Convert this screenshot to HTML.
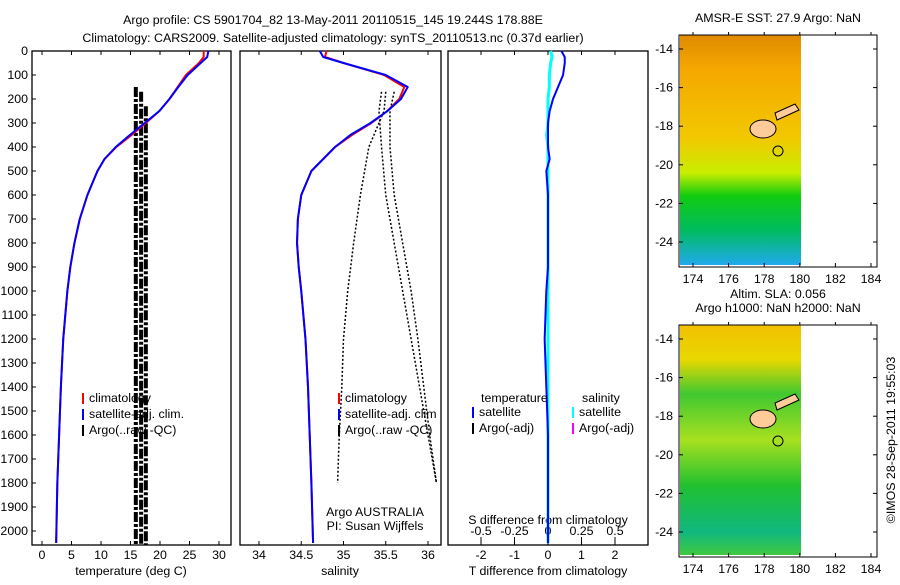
<!DOCTYPE html>
<html><head><meta charset="utf-8"><style>
body{margin:0;background:#fff;}
svg text{font-family:"Liberation Sans",sans-serif;font-size:12.4px;fill:#000;}
</style></head><body>
<svg id="c" width="900" height="580" xmlns="http://www.w3.org/2000/svg">
<text x="333" y="24" text-anchor="middle">Argo profile: CS 5901704_82 13-May-2011 20110515_145 19.244S 178.88E</text>
<text x="333" y="42" text-anchor="middle">Climatology: CARS2009. Satellite-adjusted climatology: synTS_20110513.nc (0.37d earlier)</text>
<g id="g"></g>
<text transform="translate(895,440) rotate(-90)" text-anchor="middle">©IMOS 28-Sep-2011 19:55:03</text>
</svg>
<script>
// depth levels
const depths=[0,25,50,100,150,200,250,300,350,400,450,500,600,700,800,900,1000,1200,1400,1600,1800,2050];
const tempClim=[27.4,27.4,26.6,24.4,23,21.6,19.9,17.6,15.2,12.6,10.6,9.4,7.7,6.4,5.5,4.8,4.3,3.6,3.2,2.9,2.6,2.4];
const tempSat=[28.2,28.0,26.9,24.7,23.1,21.6,19.9,17.4,14.9,12.5,10.6,9.4,7.7,6.4,5.5,4.8,4.3,3.6,3.2,2.9,2.6,2.4];
const salClim=[34.8,34.78,35.0,35.48,35.72,35.66,35.52,35.33,35.1,34.9,34.76,34.62,34.5,34.46,34.45,34.47,34.5,34.55,34.58,34.6,34.62,34.64];
const salSat=[34.72,34.76,35.0,35.5,35.76,35.68,35.52,35.32,35.08,34.9,34.76,34.62,34.5,34.46,34.45,34.47,34.5,34.55,34.58,34.6,34.62,34.64];
const tDiff=[0.4,0.5,0.5,0.45,0.3,0.15,0.05,0,0,0,0.05,-0.05,0,0,0,0,-0.05,-0.1,-0.05,0,0,0];
const sDiff=[0.02,0.03,0.02,0.01,0.01,0,0,0,-0.01,0,0,0,0,0,0,0,0,0,0,0,0,0];
const argoTempX=[15.9,16.8,17.6];
const argoTempTop=[150,170,230];
const argoSalDepth=[170,250,400,600,800,1000,1200,1400,1600,1800];
const argoSalA=[35.45,35.42,35.45,35.5,35.6,35.7,35.8,35.9,36.0,36.1];
const argoSalB=[35.6,35.55,35.55,35.6,35.7,35.8,35.88,35.95,36.02,36.1];
const argoSalC=[35.5,35.48,35.3,35.2,35.12,35.05,35,34.98,34.95,34.93];
const tTicks=[0,5,10,15,20,25,30];
const sTicks=[34,34.5,35,35.5,36];
const dTicks=[0,100,200,300,400,500,600,700,800,900,1000,1100,1200,1300,1400,1500,1600,1700,1800,1900,2000];
const tdTicks=[-2,-1,0,1,2];
const sdTicks=[-0.5,-0.25,0,0.25,0.5];
const latTicks=[-14,-16,-18,-20,-22,-24];
const lonTicks=[174,176,178,180,182,184];

const NS="http://www.w3.org/2000/svg";const G=document.getElementById('g');
function el(t,a,p){const e=document.createElementNS(NS,t);for(const k in a)e.setAttribute(k,a[k]);(p||G).appendChild(e);return e;}
const yD=d=>51+d*0.24;
const xT=v=>42+v*5.9, xS=v=>259+(v-34)*84.5, xTD=v=>548+v*33.5, xSD=v=>548+v*134;
function frame(x0,x1,name){const r=el('rect',{x:x0,y:51,width:x1-x0,height:494,fill:'none',stroke:'#000','stroke-width':1.3});
}
function xticks(ticks,f,yy,lbl,name){ticks.forEach(v=>{const x=f(v);el('line',{x1:x,x2:x,y1:545,y2:541,stroke:'#000'});el('line',{x1:x,x2:x,y1:51,y2:55,stroke:'#000'});
const t=el('text',{x:x,y:yy,'text-anchor':'middle'});t.textContent=lbl(v);});}
function line(xs,f,col,w,name,dash){const pts=depths.map((d,i)=>f(xs[i])+','+yD(d)).join(' ');const p=el('polyline',{points:pts,fill:'none',stroke:col,'stroke-width':w,'stroke-linejoin':'round'});
if(dash)p.setAttribute('stroke-dasharray',dash);}
frame(32,231,'temperature-panel');frame(240,441,'salinity-panel');frame(448,648,'difference-panel');
dTicks.forEach(d=>{const y=yD(d);el('line',{x1:32,x2:36,y1:y,y2:y,stroke:'#000'});const t=el('text',{x:28,y:y+4,'text-anchor':'end'});t.textContent=d;
});
xticks(tTicks,xT,559,v=>v,'temperature-tick-label');xticks(sTicks,xS,559,v=>v,'salinity-tick-label');xticks(tdTicks,xTD,559,v=>v,'tdiff-tick-label');
sdTicks.forEach(v=>{const x=xSD(v);el('line',{x1:x,x2:x,y1:541,y2:537,stroke:'#000'});const t=el('text',{x:x,y:535,'text-anchor':'middle'});t.textContent=v;
});
[['temperature (deg C)',131,575,'temperature-axis-title'],['salinity',340,575,'salinity-axis-title'],['T difference from climatology',548,575,'tdiff-axis-title'],['S difference from climatology',548,524,'sdiff-axis-title'],['Argo AUSTRALIA',375,516,'institution-label'],['PI: Susan Wijffels',375,530,'pi-label']].forEach(a=>{const t=el('text',{x:a[1],y:a[2],'text-anchor':'middle'});t.textContent=a[0];});
// argo temp
argoTempX.forEach((v,i)=>{const l=el('line',{x1:xT(v),x2:xT(v),y1:yD(argoTempTop[i]),y2:545,stroke:'#000','stroke-width':4,'stroke-dasharray':'10,2,3,2'});
});
line(tempClim,xT,'#f00',2,'temperature-climatology-line');line(tempSat,xT,'#00f',2,'temperature-satellite-line');
[argoSalA,argoSalB,argoSalC].forEach(arr=>{const pts=argoSalDepth.map((d,i)=>xS(arr[i])+','+yD(d)).join(' ');const p=el('polyline',{points:pts,fill:'none',stroke:'#000','stroke-width':1.5,'stroke-dasharray':'2,2'});
});
line(salClim,xS,'#f00',2,'salinity-climatology-line');line(salSat,xS,'#00f',2,'salinity-satellite-line');
line(sDiff,xSD,'#0ff',3,'salinity-diff-line');line(tDiff,xTD,'#00f',2,'temperature-diff-line');
function legend(x,y,items,name){items.forEach((it,i)=>{const yy=y+i*16;el('rect',{x:x,y:yy-9,width:2,height:11,fill:it[1]});const t=el('text',{x:x+7,y:yy});t.textContent=it[0];
});}
legend(82,402,[['climatology','#f00'],['satellite-adj. clim.','#00f'],['Argo(..raw -QC)','#000']],'temperature-legend-entry');
legend(338,402,[['climatology','#f00'],['satellite-adj. clim','#00f'],['Argo(..raw -QC)','#000']],'salinity-legend-entry');
{const t=el('text',{x:481,y:402});t.textContent='temperature';const t2=el('text',{x:582,y:402});t2.textContent='salinity';}
legend(472,416,[['satellite','#00f'],['Argo(-adj)','#000']],'tdiff-legend-entry');legend(572,416,[['satellite','#0ff'],['Argo(-adj)','#f0f']],'sdiff-legend-entry');
// maps
function map(top,title,stops,name){const bot=top+232;const d=el('defs',{});const gid='gr'+top;const lg=el('linearGradient',{id:gid,x1:0,y1:0,x2:0,y2:1},d);
stops.forEach(s=>el('stop',{offset:s[0],'stop-color':s[1]},lg));
const r=el('rect',{x:680,y:top,width:121,height:230,fill:'url(#'+gid+')'});
el('ellipse',{cx:763,cy:top+94,rx:13,ry:9,fill:'#fc9',stroke:'#000'});el('path',{d:'M775 '+(top+78)+' l20 -9 l4 6 l-22 10 z',fill:'#fc9',stroke:'#000'});
el('circle',{cx:778,cy:top+116,r:5,fill:'none',stroke:'#000'});
const f=el('rect',{x:679,y:top,width:198,height:232,fill:'none',stroke:'#000'});
latTicks.forEach(v=>{const y=top+14+(-14-v)*19.3;el('line',{x1:679,x2:683,y1:y,y2:y,stroke:'#000'});el('line',{x1:873,x2:877,y1:y,y2:y,stroke:'#000'});
const t=el('text',{x:673,y:y+4,'text-anchor':'end'});t.textContent=v;});
lonTicks.forEach(v=>{const x=693+(v-174)*17.8;el('line',{x1:x,x2:x,y1:bot,y2:bot-4,stroke:'#000'});el('line',{x1:x,x2:x,y1:top,y2:top-3,stroke:'#000'});
const t=el('text',{x:x,y:bot+16,'text-anchor':'middle'});t.textContent=v;});
title.forEach((s,i)=>{const t=el('text',{x:778,y:top-13-(title.length-1-i)*14,'text-anchor':'middle'});t.textContent=s;});}
map(35,['AMSR-E SST: 27.9 Argo: NaN'],[[0,'#e08a00'],[0.15,'#f5a800'],[0.45,'#f2c800'],[0.6,'#c8ee00'],[0.7,'#10cc10'],[0.85,'#00bb60'],[1,'#20aaee']],'sst-map');
map(325,['Altim. SLA: 0.056','Argo h1000: NaN h2000: NaN'],[[0,'#f2c000'],[0.15,'#e8d800'],[0.3,'#40c830'],[0.5,'#a8e020'],[0.7,'#20c030'],[0.9,'#10b880'],[1,'#40c840']],'sla-map');
</script>
</body></html>
